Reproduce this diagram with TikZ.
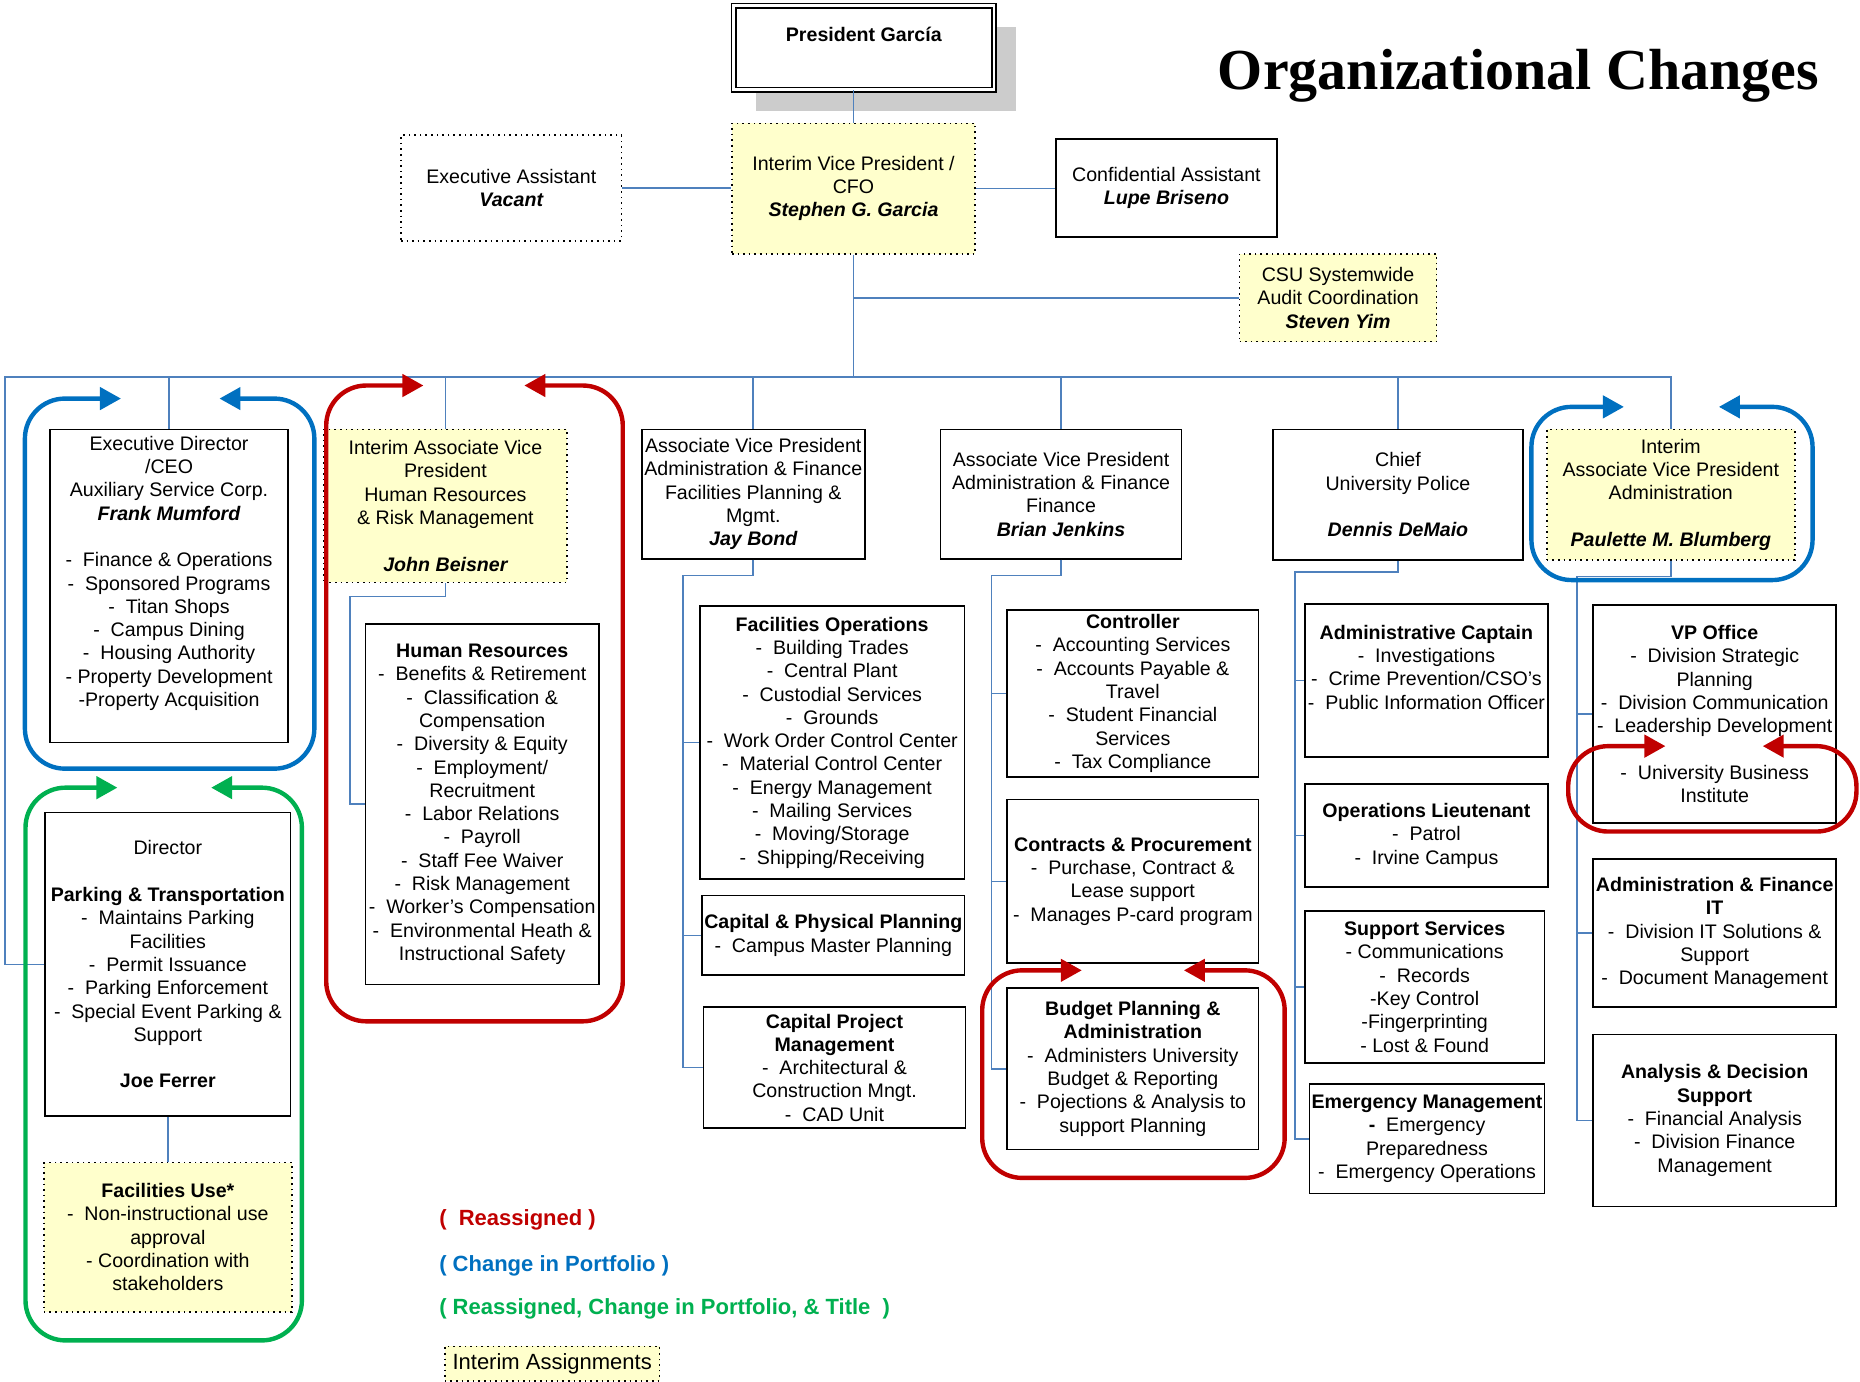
\documentclass[tikz,border=0pt]{standalone}
\usepackage{fontspec}
\setmainfont{Liberation Sans}
\newfontfamily\titleserif{Liberation Serif}
\usetikzlibrary{arrows.meta,shadows}
\definecolor{linkblue}{RGB}{79,129,189}
\definecolor{interimyellow}{RGB}{255,255,204}
\definecolor{shadowgray}{RGB}{204,204,204}
\definecolor{reassignred}{RGB}{192,0,0}
\definecolor{portfolioblue}{RGB}{0,112,192}
\definecolor{titlegreen}{RGB}{0,176,80}
\newcommand\dpx{0.5931pt}
\newcommand\pname[1]{{\bfseries\itshape #1}}
\newcommand\orgfont{\fontsize{9.8}{11.65}\selectfont}
\tikzset{orgbox/.style={draw=black, line width=0.8pt, fill=white, align=center, inner sep=0pt, font=\orgfont},
         interim/.style={orgbox, fill=interimyellow, dotted},
         openbox/.style={orgbox, dotted},
         wh/.style 2 args={minimum width=#1*\dpx, minimum height=#2*\dpx},
         link/.style={draw=linkblue, line width=0.8pt},
         swoop/.style={line width=2.2pt, rounded corners=20pt, >={Triangle[length=10.5pt,width=11pt]}, <->},
         legend/.style={anchor=west, inner sep=0pt, font=\bfseries\fontsize{11}{13}\selectfont}}

\begin{document}
\begin{tikzpicture}[x=\dpx, y=-\dpx]
        \useasboundingbox (0,0) rectangle (1568,1165);

        \node[anchor=base, font=\titleserif\bfseries\fontsize{29}{35}\selectfont] (title) at (1280,75.5) {Organizational Changes};

        % top
        \node[orgbox, double, double distance=1.4pt, wh={219.5}{70.7},
              general shadow={fill=shadowgray, shadow xshift=11.1pt, shadow yshift=-10.9pt}] (pres) at (728.25,40.15) {\textbf{President García}\\[1.3pt]~};
        \node[interim, wh={205}{110}] (vp) at (719.5,159) {Interim Vice President /\\CFO\\\pname{Stephen G. Garcia}};
        \node[openbox, wh={186}{89}] (ea) at (431,158.5) {Executive Assistant\\\pname{Vacant}};
        \node[orgbox, wh={186.6}{83}] (ca) at (983.3,158.5) {Confidential Assistant\\\pname{Lupe Briseno}};
        \node[interim, wh={166}{74}] (csu) at (1128,251) {CSU Systemwide\\Audit Coordination\\\pname{Steven Yim}};

        % first row
        \node[orgbox, wh={201}{264}] (ed) at (142.5,494) {Executive Director\\/CEO\\Auxiliary Service Corp.\\\pname{Frank Mumford}\\[11.65pt]-~~Finance \& Operations\\-~~Sponsored Programs\\-~~Titan Shops\\-~~Campus Dining\\-~~Housing Authority\\- Property Development\\-Property Acquisition\\[3pt]~};
        \node[interim, wh={205}{129}] (hravp) at (375.5,426.5) {Interim Associate Vice\\President\\Human Resources\\\& Risk Management\\[11.65pt]\pname{John Beisner}};
        \node[orgbox, wh={188}{109}] (jay) at (635,416.5) {Associate Vice President\\Administration \& Finance\\Facilities Planning \&\\Mgmt.\\\pname{Jay Bond}};
        \node[orgbox, wh={203}{109}] (brian) at (894.5,416.5) {Associate Vice President\\Administration \& Finance\\Finance\\\pname{Brian Jenkins}};
        \node[orgbox, wh={211}{110}] (chief) at (1178.5,417) {Chief\\University Police\\[11.65pt]\pname{Dennis DeMaio}};
        \node[interim, wh={209}{110}] (paul) at (1408.5,417) {Interim\\Associate Vice President\\Administration\\[11.65pt]\pname{Paulette M. Blumberg}};

        % units
        \node[orgbox, wh={197}{304}] (hr) at (406.5,678) {\textbf{Human Resources}\\-~~Benefits \& Retirement\\-~~Classification \&\\Compensation\\-~~Diversity \& Equity\\-~~Employment/\\Recruitment\\-~~Labor Relations\\-~~Payroll\\-~~Staff Fee Waiver\\-~~Risk Management\\-~~Worker’s Compensation\\-~~Environmental Heath \&\\Instructional Safety};
        \node[orgbox, wh={223}{230}] (fo) at (701.5,626) {\textbf{Facilities Operations}\\-~~Building Trades\\-~~Central Plant\\-~~Custodial Services\\-~~Grounds\\-~~Work Order Control Center\\-~~Material Control Center\\-~~Energy Management\\-~~Mailing Services\\-~~Moving/Storage\\-~~Shipping/Receiving};
        \node[orgbox, wh={221}{67}] (cphys) at (702.5,788.5) {\textbf{Capital \& Physical Planning}\\-~~Campus Master Planning};
        \node[orgbox, wh={221}{102}] (cproj) at (703.5,900) {\textbf{Capital Project}\\\textbf{Management}\\-~~Architectural \&\\Construction Mngt.\\-~~CAD Unit};
        \node[orgbox, wh={212}{141}] (ctrl) at (955,584.5) {\textbf{Controller}\\-~~Accounting Services\\-~~Accounts Payable \&\\Travel\\-~~Student Financial\\Services\\-~~Tax Compliance};
        \node[orgbox, wh={212}{138}] (contr) at (955,743) {\textbf{Contracts \& Procurement}\\-~~Purchase, Contract \&\\Lease support\\-~~Manages P-card program};
        \node[orgbox, wh={212}{136}] (budget) at (955,901) {\textbf{Budget Planning \&}\\\textbf{Administration}\\-~~Administers University\\Budget \& Reporting\\-~~Pojections \& Analysis to\\support Planning};
        \node[orgbox, wh={205}{129}] (acapt) at (1202.5,573.5) {\textbf{Administrative Captain}\\-~~Investigations\\-~~Crime Prevention/CSO’s\\-~~Public Information Officer\\[1.5pt]~};
        \node[orgbox, wh={205}{87}] (opslt) at (1202.5,704.5) {\textbf{Operations Lieutenant}\\-~~Patrol\\-~~Irvine Campus};
        \node[orgbox, wh={202}{128}] (supp) at (1201,832) {\textbf{Support Services}\\- Communications\\-~~Records\\-Key Control\\-Fingerprinting\\- Lost \& Found};
        \node[orgbox, wh={198}{92}] (emerg) at (1203,960) {\textbf{Emergency Management}\\\textbf{-}~~Emergency\\Preparedness\\-~~Emergency Operations};
        \node[orgbox, wh={205}{184}] (vpo) at (1445.5,602) {\textbf{VP Office}\\-~~Division Strategic\\Planning\\-~~Division Communication\\-~~Leadership Development\\[11.65pt]-~~University Business\\Institute};
        \node[orgbox, wh={205}{125}] (afit) at (1445.5,786.5) {\textbf{Administration \& Finance}\\\textbf{IT}\\-~~Division IT Solutions \&\\Support\\-~~Document Management};
        \node[orgbox, wh={205}{145}] (ads) at (1445.5,944.5) {\textbf{Analysis \& Decision}\\\textbf{Support}\\-~~Financial Analysis\\-~~Division Finance\\Management};
        \node[orgbox, wh={207}{256}] (dir) at (141.5,813) {Director\\[11.65pt]\textbf{Parking \& Transportation}\\-~~Maintains Parking\\Facilities\\-~~Permit Issuance\\-~~Parking Enforcement\\-~~Special Event Parking \&\\Support\\[11.65pt]\textbf{Joe Ferrer}};
        \node[interim, wh={209}{126}] (fuse) at (141.5,1043) {\textbf{Facilities Use*}\\-~~Non-instructional use\\approval\\- Coordination with\\stakeholders};

        % lines
        \coordinate (busL) at (4,318);
        \draw[link] (pres.south -| vp.north) -- (vp.north);
        \draw[link] (ea.east) -- (ea.east -| vp.west);
        \draw[link] (vp.east) -- (vp.east -| ca.west);
        \draw[link] (vp.south) -- (vp.south |- busL);
        \draw[link] (vp.south |- csu.west) -- (csu.west);
        \draw[link] (dir.west) -| (busL) -- (busL -| paul.north) -- (paul.north);
        \foreach \n in {ed, hravp, jay, brian, chief}
            \draw[link] (\n.north |- busL) -- (\n.north);

        \coordinate (hrspine) at (295,503);
        \draw[link] (hravp.south) |- (hrspine) |- (hr.west);
        \coordinate (jayspine) at (576,485);
        \draw[link] (jay.south) |- (jayspine) |- (cproj.west);
        \foreach \n in {fo, cphys}
            \draw[link] (jayspine |- \n.west) -- (\n.west);
        \coordinate (brianspine) at (836,485);
        \draw[link] (brian.south) |- (brianspine) |- (budget.west);
        \foreach \n in {ctrl, contr}
            \draw[link] (brianspine |- \n.west) -- (\n.west);
        \coordinate (chiefspine) at (1091.5,482);
        \draw[link] (chief.south) |- (chiefspine) |- (emerg.west);
        \foreach \n in {acapt, opslt, supp}
            \draw[link] (chiefspine |- \n.west) -- (\n.west);
        \coordinate (paulspine) at (1329.5,486);
        \draw[link] (paul.south) |- (paulspine) |- (ads.west);
        \foreach \n in {vpo, afit}
            \draw[link] (paulspine |- \n.west) -- (\n.west);
        \draw[link] (dir.south) -- (fuse.north);

        % change markers
        \draw[swoop, portfolioblue] (102,336) -| (21,648) -| (265,336) -- (185,336);
        \draw[swoop, titlegreen] (99,664) -| (21.5,1130) -| (254.5,664) -- (178,664);
        \draw[swoop, reassignred] (357,325) -| (275,861) -| (525,325) -- (442,325);
        \draw[swoop, reassignred] (912,818) -| (828,993) -| (1083,818) -- (998,818);
        \draw[swoop, portfolioblue] (1369,343) -| (1291,489) -| (1528,343) -- (1449,343);
        \draw[swoop, reassignred] (1404,629) -| (1322,701) -| (1565,629) -- (1486,629);

        % legend
        \node[legend, text=reassignred] (lgred) at (370,1028) {(~~Reassigned )};
        \node[legend, text=portfolioblue] (lgblue) at (370,1067) {( Change in Portfolio )};
        \node[legend, text=titlegreen] (lggreen) at (370,1103) {( Reassigned, Change in Portfolio, \& Title~~)};
        \node[interim, wh={181}{29}, font=\fontsize{11}{13}\selectfont] (lgint) at (465.5,1149.5) {Interim Assignments};
    \end{tikzpicture}
\end{document}
